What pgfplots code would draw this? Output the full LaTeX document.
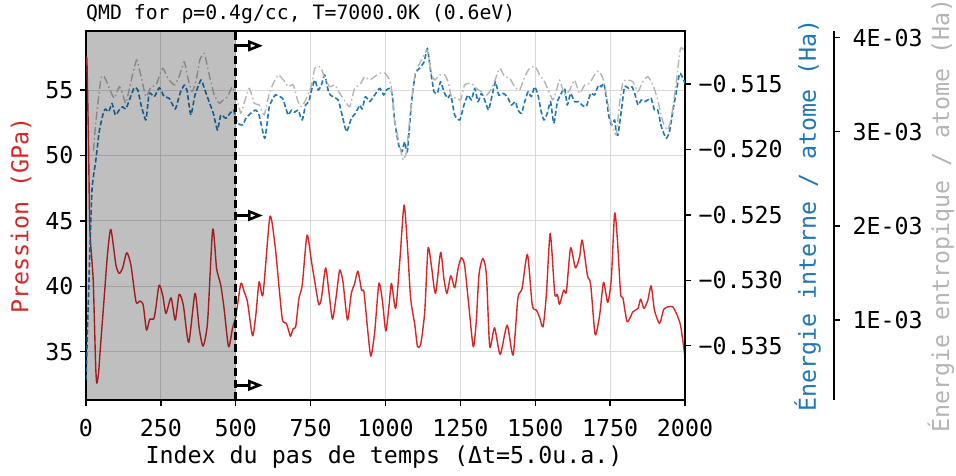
\documentclass[border=0pt]{standalone}
\usepackage{fontspec}
\setmainfont{DejaVu Sans Mono}
\usepackage{pgfplots}
\pgfplotsset{compat=1.18}
\usetikzlibrary{arrows.meta}
\definecolor{tred}{HTML}{D62728}
\definecolor{tblue}{HTML}{1F77B4}
\definecolor{tgray}{HTML}{B4B4B4}
\newcommand{\tk}{\fontsize{23.3}{27}\selectfont}
\begin{document}
\begin{tikzpicture}
\path[use as bounding box] (0,0) rectangle (956pt,475pt);
\pgfplotsset{
  base/.style={at={(86pt,75pt)}, anchor=south west, scale only axis, height=369pt,
   xmin=0, tick align=outside, major tick length=6pt,
   tick style={line width=1.3pt, black},
   axis line style={-, line width=2pt},
   ticklabel style={font=\tk},
   /pgf/number format/assume math mode=true,
   scaled y ticks=false, scaled x ticks=false, clip=true,
  }
}
\begin{axis}[base, width=599pt, xmax=2000, ymin=31.31, ymax=59.51,
  xtick={0,250,...,2000}, xticklabels={0,250,500,750,1000,1250,1500,1750,2000},
  ytick={35,40,45,50,55}, yticklabels={35,40,45,50,55},
  xtick pos=bottom, ytick pos=left,
  xticklabel style={yshift=-10pt}, yticklabel style={xshift=-3pt},
  grid=major, major grid style={line width=1pt, draw=black!15},
]
\addplot[tred, line width=1.4pt, line join=round, smooth, tension=0.4] coordinates {
(0,57.0)(3,57.3)(8,51.5)(13,44.3)(24,40.5)(32,34.1)(36,32.6)(42,33.4)(48,35.3)(60,38.9)(72,42.5)(83,44.35)(100,41.62)(111,40.99)(122,41.37)(136,42.56)(150,41.62)(167,38.82)(180,38.87)(191,38.56)(202,36.65)(213,37.49)(226,37.49)(233,38.31)(244,40.09)(256,39.33)(267,37.93)(284,39.12)(298,37.42)(311,39.38)(325,38.56)(343,35.71)(364,39.46)(378,36.78)(391,35.43)(406,37.29)(423,44.35)(436,41.37)(450,40.09)(461,38.31)(476,35.38)(489,36.78)(500,37.67)(517,40.22)(528,39.58)(539,38.82)(556,36.22)(567,37.80)(578,40.34)(591,39.38)(614,45.31)(631,43.15)(645,39.84)(656,37.42)(669,37.16)(681,36.27)(684,36.22)(692,36.78)(700,36.90)(711,39.08)(722,40.09)(738,43.91)(753,41.87)(764,40.34)(777,38.62)(786,39.08)(800,41.41)(811,39.58)(823,37.49)(836,39.33)(847,41.24)(858,40.34)(873,37.42)(886,39.46)(897,40.22)(908,41.16)(920,39.71)(928,39.58)(940,36.78)(951,34.66)(964,36.52)(978,40.22)(990,38.82)(1001,36.58)(1012,38.56)(1020,40.22)(1034,38.31)(1048,42.0)(1062,46.21)(1073,43.15)(1084,39.08)(1098,37.03)(1107,35.38)(1118,35.64)(1131,38.05)(1142,42.90)(1153,41.62)(1167,39.46)(1184,42.59)(1195,40.60)(1205,39.46)(1218,40.80)(1231,39.89)(1242,41.32)(1253,42.18)(1264,41.62)(1278,38.56)(1293,35.38)(1303,37.29)(1312,40.86)(1325,42.13)(1337,40.86)(1348,35.38)(1364,36.83)(1383,34.79)(1406,37.03)(1426,34.74)(1442,39.08)(1456,39.84)(1474,42.44)(1490,38.56)(1504,38.18)(1515,37.59)(1526,36.90)(1537,39.33)(1550,44.04)(1565,39.46)(1574,39.38)(1581,38.62)(1595,39.71)(1604,39.58)(1618,42.94)(1634,41.41)(1648,42.26)(1657,43.53)(1674,40.86)(1685,40.15)(1700,36.32)(1715,37.80)(1728,40.30)(1742,38.77)(1754,40.60)(1765,45.57)(1774,43.66)(1785,39.46)(1793,39.08)(1807,37.29)(1826,38.05)(1843,38.31)(1852,39.02)(1863,38.31)(1876,38.95)(1887,40.04)(1898,38.18)(1915,37.16)(1929,38.23)(1943,38.43)(1959,38.43)(1971,37.93)(1985,37.03)(2000,34.6)
};
\end{axis}
\begin{axis}[base, width=599pt, xmax=2000, ymin=-0.539151, ymax=-0.510948,
  axis x line=none, axis y line*=right,
  ytick={-0.535,-0.530,-0.525,-0.520,-0.515},
  yticklabels={−0.535,−0.530,−0.525,−0.520,−0.515},
  yticklabel style={xshift=4pt},
]
\addplot[tblue, line width=1.6pt, dash pattern=on 5pt off 2.5pt, line join=round, smooth, tension=0.3] coordinates {
(0,-0.5376)(10,-0.5300)(20,-0.5231)(33,-0.5208)(44,-0.51865)(56,-0.51737)(64,-0.51691)(76,-0.51712)(87,-0.51648)(98,-0.51737)(111,-0.51699)(122,-0.51674)(133,-0.51691)(145,-0.51622)(161,-0.51528)(173,-0.51546)(184,-0.51661)(200,-0.51775)(211,-0.51571)(228,-0.51597)(245,-0.51528)(261,-0.51597)(278,-0.51609)(298,-0.51691)(314,-0.51571)(328,-0.51508)(337,-0.51546)(350,-0.51737)(364,-0.51584)(384,-0.51469)(395,-0.51533)(411,-0.51635)(425,-0.51724)(439,-0.51852)(450,-0.51737)(467,-0.51762)(481,-0.51724)(493,-0.51699)(506,-0.51800)(523,-0.51813)(534,-0.51762)(550,-0.51724)(567,-0.51699)(578,-0.51737)(597,-0.51915)(612,-0.51674)(632,-0.51584)(656,-0.51609)(664,-0.51661)(675,-0.51737)(686,-0.51699)(697,-0.51716)(708,-0.51699)(722,-0.51775)(733,-0.51661)(744,-0.51635)(753,-0.51546)(764,-0.51469)(775,-0.51546)(786,-0.51508)(797,-0.51431)(811,-0.51571)(825,-0.51597)(842,-0.51622)(855,-0.51737)(870,-0.51865)(886,-0.51762)(900,-0.51724)(914,-0.51661)(922,-0.51691)(933,-0.51597)(947,-0.51635)(964,-0.51584)(981,-0.51533)(994,-0.51584)(1003,-0.51546)(1014,-0.51533)(1022,-0.51571)(1031,-0.51788)(1044,-0.51966)(1055,-0.52018)(1064,-0.51941)(1073,-0.52018)(1087,-0.51635)(1100,-0.51418)(1114,-0.51380)(1129,-0.51330)(1140,-0.51227)(1151,-0.51406)(1162,-0.51559)(1173,-0.51571)(1184,-0.51482)(1195,-0.51559)(1207,-0.51609)(1218,-0.51584)(1231,-0.51737)(1248,-0.51775)(1262,-0.51661)(1275,-0.51584)(1287,-0.51622)(1298,-0.51533)(1309,-0.51635)(1320,-0.51571)(1331,-0.51622)(1344,-0.51699)(1355,-0.51597)(1367,-0.51482)(1378,-0.51584)(1392,-0.51571)(1407,-0.51597)(1420,-0.51661)(1434,-0.51635)(1442,-0.51699)(1454,-0.51724)(1465,-0.51635)(1476,-0.51559)(1487,-0.51597)(1498,-0.51521)(1509,-0.51584)(1520,-0.51712)(1529,-0.51775)(1540,-0.51724)(1551,-0.51635)(1562,-0.51800)(1574,-0.51635)(1587,-0.51571)(1598,-0.51533)(1607,-0.51661)(1618,-0.51571)(1631,-0.51635)(1645,-0.51635)(1656,-0.51661)(1670,-0.51674)(1685,-0.51571)(1698,-0.51584)(1711,-0.51508)(1720,-0.51521)(1729,-0.51495)(1737,-0.51597)(1745,-0.51737)(1754,-0.51813)(1765,-0.51775)(1770,-0.51865)(1776,-0.51890)(1787,-0.51712)(1798,-0.51521)(1812,-0.51533)(1823,-0.51521)(1832,-0.51571)(1843,-0.51661)(1854,-0.51622)(1865,-0.51635)(1876,-0.51622)(1887,-0.51609)(1898,-0.51699)(1909,-0.51699)(1921,-0.51826)(1937,-0.51915)(1948,-0.51865)(1959,-0.51712)(1971,-0.51559)(1982,-0.51418)(1993,-0.51456)(2000,-0.51495)
};
\end{axis}
\begin{axis}[base, width=748pt, xmax=2497.5, ymin=0.000150, ymax=0.004071,
  axis x line=none, axis y line*=right, axis line style={-, line width=1.5pt},
  ytick={0.001,0.002,0.003,0.004},
  yticklabels={1E-03,2E-03,3E-03,4E-03},
  yticklabel style={xshift=9pt},
]
\addplot[tgray, line width=1.4pt, dash pattern=on 8pt off 3pt on 1.5pt off 3pt, line join=round, smooth, tension=0.3] coordinates {
(25,2.8e-3)(33,3.107e-3)(50,3.569e-3)(61,3.586e-3)(78,3.462e-3)(94,3.356e-3)(111,3.479e-3)(122,3.409e-3)(133,3.303e-3)(150,3.532e-3)(169,3.763e-3)(184,3.586e-3)(200,3.373e-3)(217,3.479e-3)(234,3.497e-3)(256,3.675e-3)(273,3.569e-3)(295,3.497e-3)(311,3.586e-3)(328,3.745e-3)(339,3.586e-3)(354,3.426e-3)(367,3.532e-3)(380,3.763e-3)(395,3.834e-3)(409,3.639e-3)(428,3.391e-3)(445,3.303e-3)(458,3.338e-3)(473,3.373e-3)(489,3.479e-3)(506,3.320e-3)(517,3.197e-3)(528,3.303e-3)(545,3.462e-3)(562,3.303e-3)(578,3.285e-3)(595,3.179e-3)(612,3.409e-3)(628,3.532e-3)(643,3.604e-3)(664,3.532e-3)(675,3.479e-3)(692,3.497e-3)(708,3.320e-3)(720,3.267e-3)(736,3.356e-3)(753,3.497e-3)(764,3.675e-3)(784,3.685e-3)(797,3.569e-3)(814,3.479e-3)(831,3.497e-3)(847,3.409e-3)(866,3.320e-3)(881,3.267e-3)(897,3.462e-3)(914,3.497e-3)(931,3.586e-3)(947,3.550e-3)(964,3.586e-3)(981,3.622e-3)(998,3.622e-3)(1011,3.569e-3)(1020,3.462e-3)(1031,3.107e-3)(1048,2.842e-3)(1059,2.700e-3)(1070,2.789e-3)(1081,3.143e-3)(1098,3.604e-3)(1114,3.728e-3)(1129,3.816e-3)(1140,3.869e-3)(1153,3.622e-3)(1164,3.550e-3)(1181,3.604e-3)(1198,3.604e-3)(1209,3.532e-3)(1220,3.373e-3)(1237,3.356e-3)(1251,3.338e-3)(1264,3.497e-3)(1287,3.515e-3)(1303,3.462e-3)(1320,3.426e-3)(1331,3.373e-3)(1348,3.426e-3)(1364,3.532e-3)(1381,3.675e-3)(1398,3.586e-3)(1415,3.569e-3)(1431,3.479e-3)(1448,3.444e-3)(1465,3.586e-3)(1481,3.675e-3)(1500,3.692e-3)(1515,3.604e-3)(1531,3.532e-3)(1548,3.409e-3)(1559,3.338e-3)(1570,3.426e-3)(1581,3.550e-3)(1598,3.391e-3)(1615,3.444e-3)(1631,3.550e-3)(1648,3.409e-3)(1665,3.497e-3)(1681,3.515e-3)(1698,3.604e-3)(1711,3.646e-3)(1726,3.569e-3)(1737,3.409e-3)(1754,3.090e-3)(1770,2.966e-3)(1781,3.285e-3)(1793,3.532e-3)(1809,3.550e-3)(1826,3.532e-3)(1843,3.426e-3)(1859,3.532e-3)(1876,3.586e-3)(1893,3.497e-3)(1909,3.338e-3)(1926,3.107e-3)(1941,3.019e-3)(1954,3.143e-3)(1971,3.532e-3)(1985,3.887e-3)(2000,3.851e-3)
};
\fill[black, opacity=0.25] (axis cs:0,0.000150) rectangle (axis cs:500,0.004071);
\draw[black, line width=2.8pt, dash pattern=on 8pt off 4pt] (axis cs:500,0.000150) -- (axis cs:500,0.004071);
\draw[black, line width=2.6pt, -{Triangle[open, length=15pt, width=11pt]}] (axis cs:500,0.003914) -- (axis cs:591,0.003914);
\draw[black, line width=2.6pt, -{Triangle[open, length=15pt, width=11pt]}] (axis cs:500,0.0021105) -- (axis cs:591,0.0021105);
\draw[black, line width=2.6pt, -{Triangle[open, length=15pt, width=11pt]}] (axis cs:500,0.0003068) -- (axis cs:591,0.0003068);
\end{axis}
\node[anchor=base west, inner sep=0, font=\fontsize{19.8}{23}\selectfont] at (86pt,455pt) {QMD for ρ=0.4g/cc, T=7000.0K (0.6eV)};
\node[anchor=base, inner sep=0, font=\tk] at (384pt,12pt) {Index du pas de temps (Δt=5.0u.a.)};
\node[rotate=90, inner sep=0, text=tred, font=\tk] at (21pt,259.5pt) {Pression (GPa)};
\node[rotate=90, inner sep=0, text=tblue, font=\tk] at (807.5pt,259.5pt) {Énergie interne / atome (Ha)};
\node[rotate=90, inner sep=0, text=tgray, font=\tk] at (940.8pt,259.5pt) {Énergie entropique / atome (Ha)};
\end{tikzpicture}
\end{document}
